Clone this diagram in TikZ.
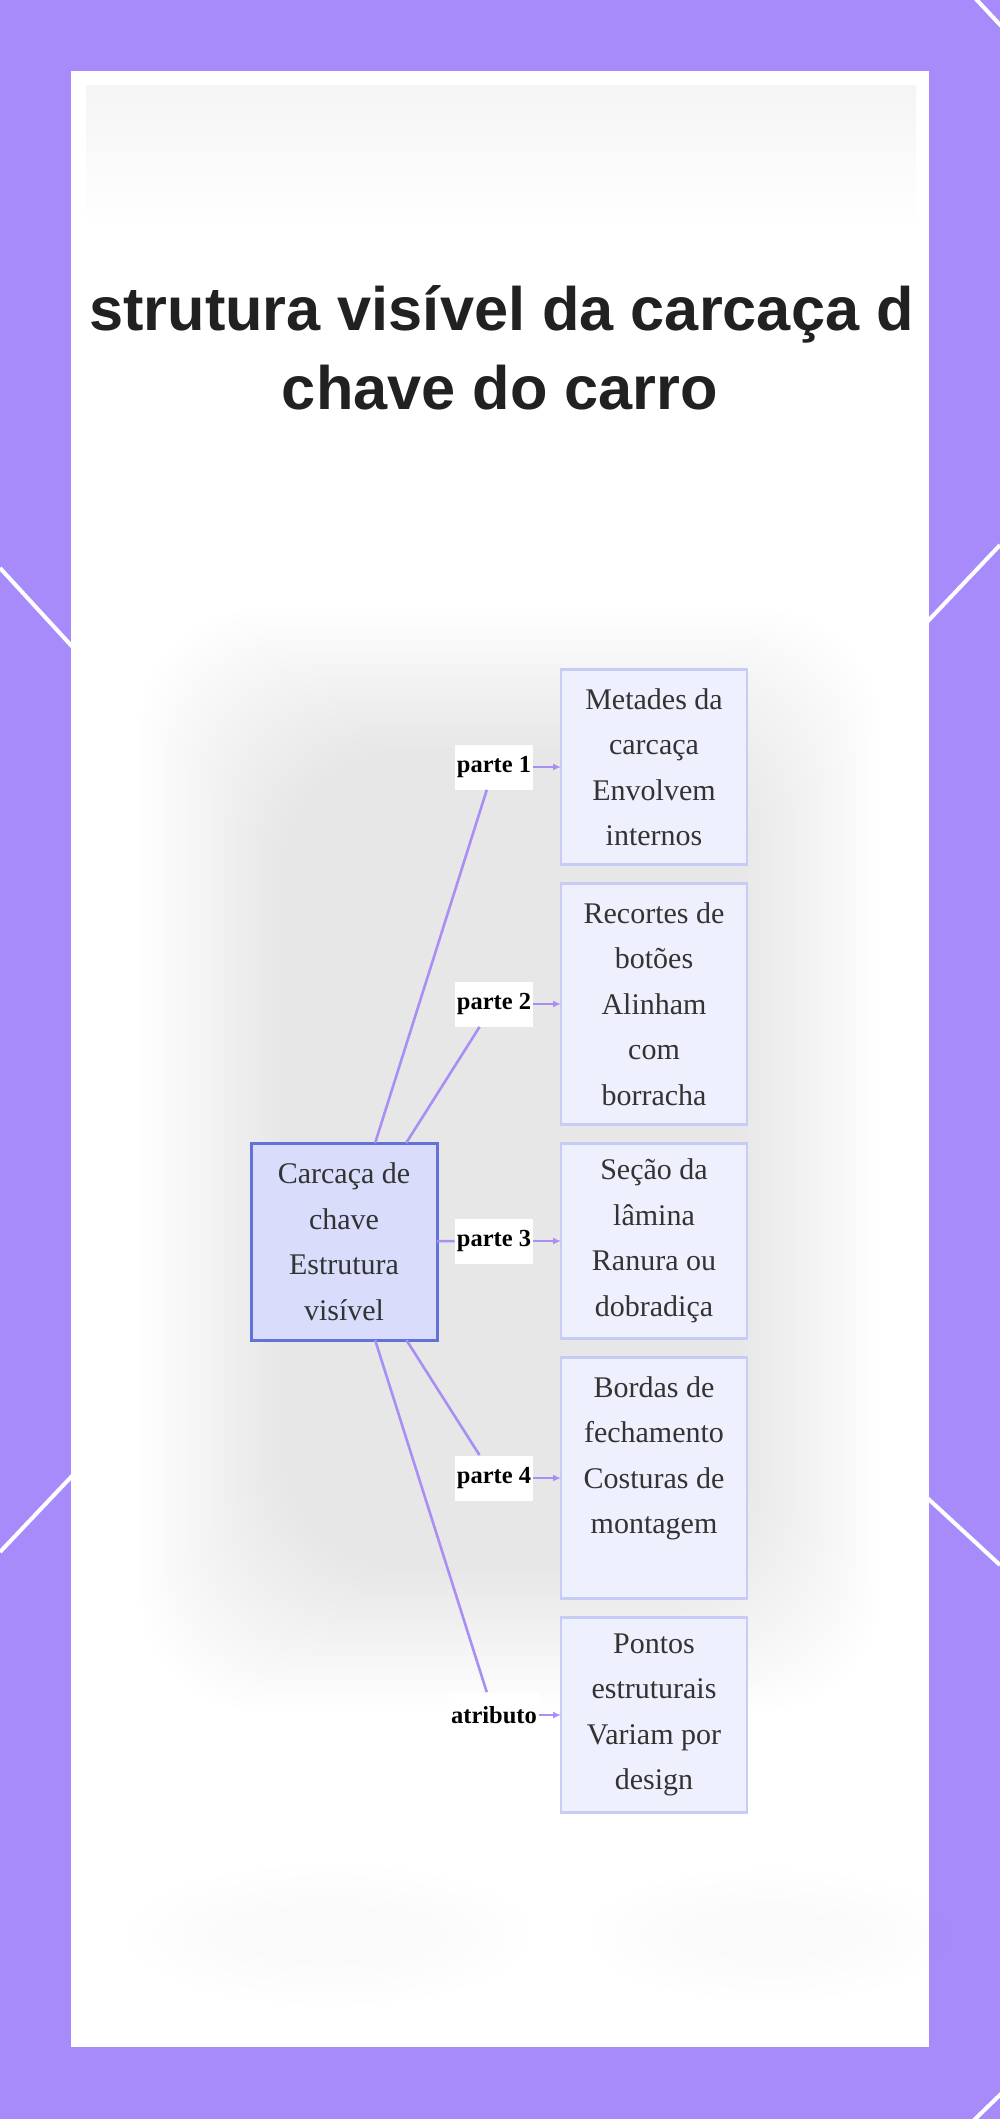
\documentclass[tikz,border=0pt]{standalone}
\usepackage{fontspec}
\setmainfont{Liberation Serif}
\newfontfamily\headfont{Liberation Sans}
\usetikzlibrary{arrows.meta,positioning}
\definecolor{frame}{HTML}{A78BFA}
\definecolor{hubfill}{HTML}{D9DCFB}
\definecolor{hubline}{HTML}{6272D8}
\definecolor{partfill}{HTML}{EEF0FD}
\definecolor{partline}{HTML}{C6CCF5}
\definecolor{linkcol}{HTML}{A98EF3}
\definecolor{ink}{HTML}{333333}

\begin{document}
\begin{tikzpicture}[x=0.5pt,y=-0.5pt, >={Latex[length=4pt,width=3.5pt]},
 head/.style={font=\headfont\fontsize{30.65}{36}\selectfont\bfseries,text=black!87,anchor=base,inner sep=0pt},
 part/.style={draw=partline,fill=partfill,line width=1.25pt,align=center,minimum width=93pt,minimum height=97.5pt,inner sep=0pt,outer sep=0pt,text=ink,font=\fontsize{15}{22.75}\selectfont},
 hub/.style={part,draw=hubline,fill=hubfill,line width=1.5pt,minimum height=98.5pt},
 tag/.style={fill=white,inner xsep=1pt,inner ysep=0pt,minimum height=22.5pt,font=\fontsize{12.25}{14}\selectfont\bfseries},
 link/.style={draw=linkcol,line width=1.3pt}]
\useasboundingbox (0,0) rectangle (1000,2119);
\fill[frame] (0,0) rectangle (1000,2119);
% white strokes of the frame
\foreach \a/\b in {{0,568}/{90,666},{1000,545}/{910,640},{0,1552}/{90,1457},{1000,1565}/{910,1482},{974,-3}/{1004,29},{972,2122}/{1004,2091}}
 \draw[white,line width=2pt] (\a) -- (\b);
\fill[white] (71,71) rectangle (929,2047);
% soft grey haze behind the chart
\shade[top color=black!4,bottom color=white] (86,86) rectangle (916,230);
\foreach \k in {0,...,23}
 \fill[black,opacity=0.0055,rounded corners=60pt] (140+6*\k,610+6*\k) rectangle (880-6*\k,1710-6*\k);
\foreach \k in {0,...,4}
 \fill[black,opacity=0.003] (330,1935) ellipse [x radius=200-25*\k, y radius=70-10*\k]
  (770,1935) ellipse [x radius=180-25*\k, y radius=65-10*\k];

\node[head] (title1) at (501.5,330) {strutura visível da carcaça d};
\node[head] (title2) at (500,409) {chave do carro};

\node[hub] (hub) at (344,1241.5) {Carcaça de\\chave\\Estrutura\\visível};
\node[part,anchor=north] (b1) at (654,669.5) {Metades da\\carcaça\\Envolvem\\internos};
\node[part,below=9.5pt of b1,minimum height=120.5pt] (b2) {Recortes de\\botões\\Alinham\\com\\borracha};
\node[part,below=9.5pt of b2] (b3) {Seção da\\lâmina\\Ranura ou\\dobradiça};
\node[part,below=9.5pt of b3,minimum height=120.5pt] (b4) {Bordas de\\fechamento\\Costuras de\\montagem\\\mbox{}};
\node[part,below=9.5pt of b4] (b5) {Pontos\\estruturais\\Variam por\\design};

\foreach \i/\t in {1/parte 1,2/parte 2,3/parte 3,4/parte 4,5/atributo}{
 \node[tag] (t\i) at (494,0 |- b\i) {\t};
 \draw[link] (hub) -- (t\i);
 \draw[link,->] (t\i) -- (b\i);
}
\end{tikzpicture}
\end{document}
